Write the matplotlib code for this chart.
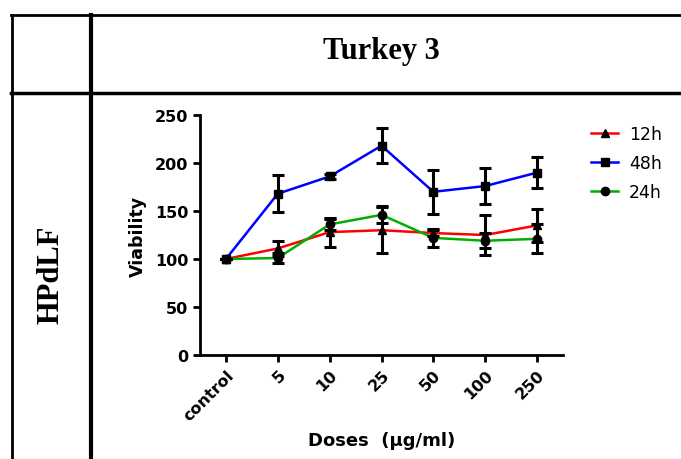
import numpy as np
import matplotlib.pyplot as plt
from matplotlib.lines import Line2D

# datos
doses = ['control', '5', '10', '25', '50', '100', '250']
h12 = [100, 111, 128, 130, 127, 125, 135]
h12_err = [0, 8, 15, 24, 3, 21, 17]
h48 = [100, 168, 186, 218, 170, 176, 190]
h48_err = [0, 19, 3, 18, 23, 19, 16]
h24 = [100, 101, 136, 146, 122, 119, 121]
h24_err = [0, 5, 6, 9, 9, 8, 15]

fig = plt.figure(figsize=(6.81, 4.60), dpi=100)
ax = fig.add_axes([200/681, 1-356/460, 363/681, 240/460])

x = np.arange(len(doses))
series = [(h12, h12_err, 'red', '^', '12h'),
          (h48, h48_err, 'blue', 's', '48h'),
          (h24, h24_err, '#00b000', 'o', '24h')]
for y, e, col, mk, lab in series:
    ax.plot(x, y, color=col, lw=1.8, zorder=2)
    ax.errorbar(x, y, yerr=e, fmt=mk, color='black', ms=6, ecolor='black',
                elinewidth=2.2, capsize=4, capthick=2.2, zorder=3)

ax.set_xlim(-0.5, 6.5)
ax.set_ylim(0, 250)
ax.set_yticks([0, 50, 100, 150, 200, 250])
ax.set_xticks(x)
ax.set_xticklabels(doses, rotation=45, ha='right', va='top',
                   rotation_mode='anchor', fontsize=11.5, fontweight='bold')
for t in ax.get_yticklabels():
    t.set_fontweight('bold')
    t.set_fontsize(11.5)
ax.spines['top'].set_visible(False)
ax.spines['right'].set_visible(False)
ax.spines['left'].set_linewidth(2)
ax.spines['bottom'].set_linewidth(2)
ax.tick_params(width=2, length=5, direction='out')
ax.set_ylabel('Viability', fontsize=12.5, fontweight='bold', labelpad=6)
ax.set_xlabel('Doses  (\u00b5g/ml)', fontsize=13, fontweight='bold', labelpad=6)

handles = [Line2D([], [], color=c, lw=1.8, marker=m, mfc='black', mec='black', ms=6)
           for _, _, c, m, _ in series]
fig.legend(handles, [s[4] for s in series], loc='upper left',
           bbox_to_anchor=(575/681, 1-110/460), frameon=False, fontsize=12.5,
           handlelength=1.6, handletextpad=0.6, labelspacing=0.65)

# tabla
top = 1-16/460
mid = 1-94/460
fig.add_artist(Line2D([11/681, 1], [top, top], color='black', lw=2))
fig.add_artist(Line2D([11/681, 1], [mid, mid], color='black', lw=2.5))
fig.add_artist(Line2D([11.5/681, 11.5/681], [0, top], color='black', lw=2))
fig.add_artist(Line2D([91/681, 91/681], [0, top], color='black', lw=3))

fig.text(381/681, 1-52/460, 'Turkey 3', family='Liberation Serif', fontweight='bold',
         fontsize=22, ha='center', va='center')
fig.text(51/681, 1-275/460, 'HPdLF', family='Liberation Serif', fontweight='bold',
         fontsize=22, ha='center', va='center', rotation=90)

fig.savefig('out.png', dpi=100)
